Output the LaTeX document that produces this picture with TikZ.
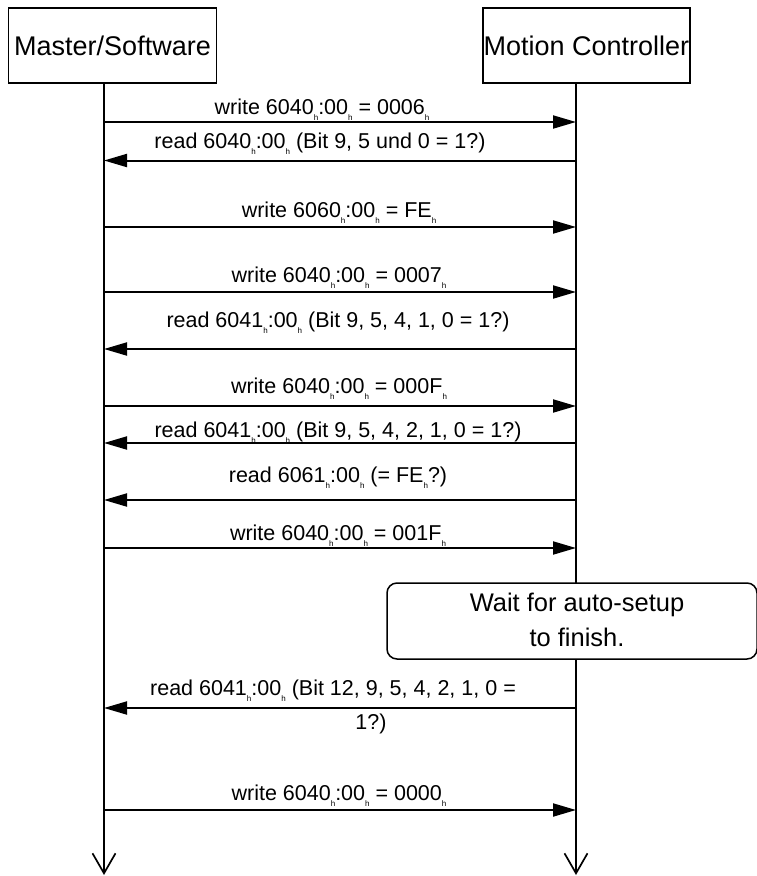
\documentclass[tikz,border=0pt]{standalone}
\usepackage{fontspec}
\setmainfont{Liberation Sans}
\usetikzlibrary{positioning,arrows.meta}

\newcommand{\hx}{\raisebox{-6pt}{\fontsize{8}{8}\selectfont h}}

\begin{document}
\begin{tikzpicture}[x=1pt,y=-1pt,
        actor/.style={draw, line width=1.5pt, minimum width=208pt, minimum height=75pt,
            inner sep=0pt, font=\fontsize{27}{32}\selectfont},
        life/.style={line width=1.7pt, -{Straight Barb[length=20pt,width=23pt]}},
        msg/.style={line width=2pt, -{Triangle[length=23pt,width=13pt]}},
        lbl/.style={anchor=base, inner sep=0pt, font=\fontsize{21.5}{26}\selectfont},
        note/.style={draw, fill=white, rounded corners=10pt, line width=1.5pt,
            minimum width=370pt, minimum height=76pt}]
        \useasboundingbox (0,0) rectangle (757,876);

        \node[actor] (ms) at (112.5,45.5) {Master/Software};
        \node[actor, minimum width=207pt] (mc) [right=265pt of ms] {Motion Controller};

        \coordinate (msTop) at (104,83);
        \coordinate (msEnd) at (104,875);
        \coordinate (mcTop) at (576,83);
        \coordinate (mcEnd) at (576,875);

        \draw[life] (msTop) -- (msEnd);
        \draw[life] (mcTop) -- (mcEnd);

        \foreach \n/\y in {1/122, 2/160.5, 3/227, 4/292, 5/349, 6/406,
                           7/443, 8/500, 9/548, 10/708, 11/810} {
            \coordinate (L\n) at (104,\y);
            \coordinate (R\n) at (576,\y);
        }

        % master -> controller and back
        \draw[msg] (L1) -- (R1);
        \node[lbl] (t1) at (322,114) {write 6040\hx:00\hx{} = 0006\hx};
        \draw[msg] (R2) -- (L2);
        \node[lbl] (t2) at (320,148.3) {read 6040\hx:00\hx{} (Bit 9, 5 und 0 = 1?)};
        %
        \draw[msg] (L3) -- (R3);
        \node[lbl] (t3) at (339,217) {write 6060\hx:00\hx{} = FE\hx};
        \draw[msg] (L4) -- (R4);
        \node[lbl] (t4) at (339,282) {write 6040\hx:00\hx{} = 0007\hx};
        \draw[msg] (R5) -- (L5);
        \node[lbl] (t5) at (338,327) {read 6041\hx:00\hx{} (Bit 9, 5, 4, 1, 0 = 1?)};
        %
        \draw[msg] (L6) -- (R6);
        \node[lbl] (t6) at (339,393) {write 6040\hx:00\hx{} = 000F\hx};
        \draw[msg] (R7) -- (L7);
        \node[lbl] (t7) at (338,437) {read 6041\hx:00\hx{} (Bit 9, 5, 4, 2, 1, 0 = 1?)};
        \draw[msg] (R8) -- (L8);
        \node[lbl] (t8) at (338,482) {read 6061\hx:00\hx{} (= FE\hx?)};
        \draw[msg] (L9) -- (R9);
        \node[lbl] (t9) at (338,540) {write 6040\hx:00\hx{} = 001F\hx};

        % auto-setup
        \node[note] (wait) at (572,621) {};
        \node[inner sep=0pt, align=center, font=\fontsize{25.5}{35}\selectfont]
            (waittext) at (577,620) {Wait for auto-setup\\to finish.};

        \draw[msg] (R10) -- (L10);
        \node[lbl] (t10) at (333,695) {read 6041\hx:00\hx{} (Bit 12, 9, 5, 4, 2, 1, 0 =};
        \node[lbl] (t10b) at (371,729) {1?)};
        \draw[msg] (L11) -- (R11);
        \node[lbl] (t11) at (339,800) {write 6040\hx:00\hx{} = 0000\hx};
    \end{tikzpicture}
\end{document}
